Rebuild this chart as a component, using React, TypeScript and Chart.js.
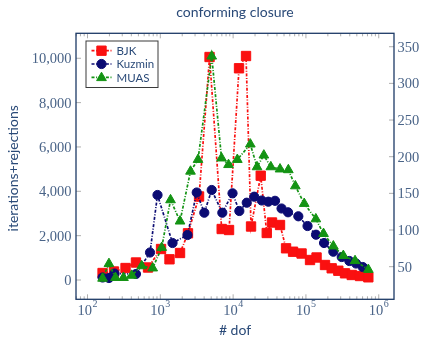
import React, { useEffect, useRef } from 'react';
import { Chart, registerables } from 'chart.js';

Chart.register(...registerables);

// Mesh sizes (# dof) and iteration+rejection counts for each method
const bjkDof = [161, 231, 333, 463, 678, 1023, 1337, 1866, 2399, 3404, 4745, 6966, 8790, 12050, 15040, 17620, 23930, 28970, 34200, 44060, 53330, 66530, 87100, 113800, 139900, 182800, 225800, 278500, 344200, 425500, 553400, 719500];
const bjkCount = [316, 383, 541, 789, 564, 1398, 934, 1218, 2106, 3766, 10057, 2300, 2255, 9548, 10102, 2413, 4704, 2120, 2593, 2481, 1430, 1276, 1195, 902, 1015, 677, 528, 419, 302, 226, 180, 122];

const kuzminDof = [161, 197, 235, 463, 722, 915, 1471, 2363, 3162, 4021, 5082, 7105, 9813, 12170, 15380, 19490, 24720, 30440, 37630, 46220, 56780, 78640, 105200, 137600, 177300, 237900, 310300, 394700, 487800, 602900];
const kuzminCount = [113, 90, 293, 271, 1240, 3834, 1669, 2030, 3946, 3035, 4059, 3035, 3910, 3112, 3486, 3757, 3586, 3532, 3572, 3225, 3054, 2873, 2435, 2043, 1669, 1276, 1037, 857, 744, 586];

const muasDof = [161, 197, 242, 312, 405, 555, 786, 1045, 1381, 1866, 2598, 3295, 5082, 6929, 8647, 11420, 17230, 21300, 26410, 32950, 44060, 57320, 71520, 94750, 136800, 174500, 237900, 326300, 472600, 719500];
const muasCount = [34, 54, 35, 35, 38, 51, 48, 76, 141, 112, 180, 196, 337, 198, 189, 196, 217, 186, 202, 186, 183, 182, 160, 136, 115, 95, 78, 65, 58, 46];

// Axis tick values
const leftTicks = [0, 2000, 4000, 6000, 8000, 10000];
const rightTicks = [50, 100, 150, 200, 250, 300, 350];
const decadeExponents = [2, 3, 4, 5, 6];

const TITLE = 'conforming closure';
const X_TITLE = '# dof';
const Y_TITLE = 'iterations+rejections';

const RED = '#fa1010';
const NAVY = '#0b0b73';
const GREEN = '#139313';
const FRAME = '#1d3a66';
const TICK_TEXT = '#4a6488';
const TITLE_TEXT = '#2a4a78';
const TICK_MARK = '#9a9a9a';
const DASH = [3, 1.6, 1, 1.6];

const SERIF = '"Liberation Serif", serif';
const SANS = 'Lato, "Noto Sans", sans-serif';

function toPoints(xs: number[], ys: number[]) {
  return xs.map((x, i) => ({ x, y: ys[i] }));
}

// Same geometry as Chart.js point styles
function drawMarker(ctx: CanvasRenderingContext2D, style: string, x: number, y: number, r: number) {
  ctx.beginPath();
  if (style === 'rect') {
    const s = Math.SQRT1_2 * r;
    ctx.rect(x - s, y - s, 2 * s, 2 * s);
  } else if (style === 'triangle') {
    let rad = 0;
    ctx.moveTo(x + Math.sin(rad) * r, y - Math.cos(rad) * r);
    rad += (2 * Math.PI) / 3;
    ctx.lineTo(x + Math.sin(rad) * r, y - Math.cos(rad) * r);
    rad += (2 * Math.PI) / 3;
    ctx.lineTo(x + Math.sin(rad) * r, y - Math.cos(rad) * r);
    ctx.closePath();
  } else {
    ctx.arc(x, y, r, 0, Math.PI * 2);
  }
  ctx.fill();
  ctx.stroke();
}

const insideTicks = {
  id: 'insideTicks',
  beforeDatasetsDraw(chart: any) {
    const { ctx, chartArea: a, scales } = chart;
    const xs = scales.x;
    const yl = scales.y;
    const yr = scales.y2;
    ctx.save();
    ctx.strokeStyle = TICK_MARK;
    ctx.lineWidth = 0.8;
    const seg = (x1: number, y1: number, x2: number, y2: number) => {
      ctx.beginPath();
      ctx.moveTo(x1, y1);
      ctx.lineTo(x2, y2);
      ctx.stroke();
    };
    for (let e = 1; e <= 6; e++) {
      for (let m = 1; m <= 9; m++) {
        const v = m * Math.pow(10, e);
        if (v < xs.min || v > xs.max) continue;
        const px = xs.getPixelForValue(v);
        const len = m === 1 ? 5 : 3;
        seg(px, a.bottom, px, a.bottom - len);
        seg(px, a.top, px, a.top + len);
      }
    }
    leftTicks.forEach((v) => {
      const py = yl.getPixelForValue(v);
      seg(a.left, py, a.left + 5, py);
    });
    rightTicks.forEach((v) => {
      const py = yr.getPixelForValue(v);
      seg(a.right, py, a.right - 5, py);
    });
    ctx.restore();
  },
};

const decorations = {
  id: 'decorations',
  afterDatasetsDraw(chart: any) {
    const { ctx, chartArea: a, scales } = chart;
    const xs = scales.x;
    const yl = scales.y;
    const yr = scales.y2;
    ctx.save();

    // frame
    ctx.strokeStyle = FRAME;
    ctx.lineWidth = 1.3;
    ctx.strokeRect(a.left, a.top, a.right - a.left, a.bottom - a.top);

    // left tick labels
    ctx.fillStyle = TICK_TEXT;
    ctx.font = `14.5px ${SERIF}`;
    ctx.textBaseline = 'alphabetic';
    ctx.textAlign = 'right';
    leftTicks.forEach((v) => {
      ctx.fillText(v.toLocaleString('en-US'), a.left - 4.5, yl.getPixelForValue(v) + 4.9);
    });
    // right tick labels
    ctx.textAlign = 'left';
    rightTicks.forEach((v) => {
      ctx.fillText(String(v), a.right + 3.5, yr.getPixelForValue(v) + 4.9);
    });
    // x tick labels 10^k
    decadeExponents.forEach((k) => {
      const px = xs.getPixelForValue(Math.pow(10, k));
      ctx.font = `14.5px ${SERIF}`;
      const wb = ctx.measureText('10').width;
      ctx.font = `10px ${SERIF}`;
      const ws = ctx.measureText(String(k)).width;
      const start = px - (wb + ws + 0.5) / 2;
      ctx.textAlign = 'left';
      ctx.font = `14.5px ${SERIF}`;
      ctx.fillText('10', start, a.bottom + 15.7);
      ctx.font = `10px ${SERIF}`;
      ctx.fillText(String(k), start + wb + 0.5, a.bottom + 7.5);
    });

    // titles
    const cx = (a.left + a.right) / 2;
    ctx.fillStyle = TITLE_TEXT;
    ctx.textAlign = 'center';
    ctx.font = `14px ${SANS}`;
    ctx.fillText(TITLE, cx, 16.5);
    ctx.font = `14px ${SANS}`;
    ctx.fillText(X_TITLE, cx, 335);
    ctx.save();
    ctx.translate(13, (a.top + a.bottom) / 2 + 2);
    ctx.rotate(-Math.PI / 2);
    ctx.textBaseline = 'middle';
    ctx.fillText(Y_TITLE, 0, 0);
    ctx.restore();

    // legend
    const lx = 86;
    const ly = 41;
    ctx.fillStyle = '#ffffff';
    ctx.fillRect(lx, ly, 72, 46.5);
    ctx.strokeStyle = '#3a3a3a';
    ctx.lineWidth = 1;
    ctx.strokeRect(lx, ly, 72, 46.5);
    chart.data.datasets.forEach((ds: any, i: number) => {
      const y = 50.7 + i * 13.3;
      ctx.strokeStyle = ds.borderColor;
      ctx.lineWidth = ds.borderWidth;
      ctx.setLineDash(DASH);
      ctx.beginPath();
      ctx.moveTo(91.5, y);
      ctx.lineTo(111.5, y);
      ctx.stroke();
      ctx.setLineDash([]);
      ctx.fillStyle = ds.backgroundColor;
      ctx.lineWidth = ds.pointBorderWidth;
      drawMarker(ctx, ds.pointStyle, 101.5, ds.pointStyle === 'triangle' ? y + 0.5 : y, ds.pointRadius);
      ctx.fillStyle = TITLE_TEXT;
      ctx.font = `11.5px ${SANS}`;
      ctx.textAlign = 'left';
      ctx.textBaseline = 'middle';
      ctx.fillText(ds.label, 116.5, y + 0.5);
    });

    ctx.restore();
  },
};

export default function App() {
  const ref = useRef<HTMLCanvasElement | null>(null);

  useEffect(() => {
    if (!ref.current) return;
    const common = { borderWidth: 1.7, borderDash: DASH, pointBorderWidth: 1, tension: 0, fill: false };
    const chart = new Chart(ref.current, {
      type: 'line',
      data: {
        datasets: [
          {
            ...common,
            label: 'BJK',
            data: toPoints(bjkDof, bjkCount),
            yAxisID: 'y',
            borderColor: RED,
            backgroundColor: RED,
            pointStyle: 'rect',
            pointRadius: 6.6,
            order: 3,
          },
          {
            ...common,
            label: 'Kuzmin',
            data: toPoints(kuzminDof, kuzminCount),
            yAxisID: 'y',
            borderColor: NAVY,
            backgroundColor: NAVY,
            pointStyle: 'circle',
            pointRadius: 4.6,
            order: 2,
          },
          {
            ...common,
            label: 'MUAS',
            data: toPoints(muasDof, muasCount),
            yAxisID: 'y2',
            borderColor: GREEN,
            backgroundColor: GREEN,
            pointStyle: 'triangle',
            pointRadius: 5.6,
            order: 1,
          },
        ] as any,
      },
      options: {
        animation: false,
        responsive: false,
        devicePixelRatio: 1,
        events: [],
        layout: { padding: { left: 76, right: 29, top: 33.3, bottom: 39.7 } },
        plugins: {
          legend: { display: false },
          title: { display: false },
          tooltip: { enabled: false },
        },
        scales: {
          x: { type: 'logarithmic', min: 69.5, max: 1.62e6, display: false },
          y: { type: 'linear', position: 'left', min: -870, max: 11126, display: false },
          y2: { type: 'linear', position: 'right', min: 5.5, max: 368.3, display: false },
        },
      } as any,
      plugins: [insideTicks, decorations],
    });
    return () => chart.destroy();
  }, []);

  return (
    <div style={{ position: 'fixed', left: 0, top: 0, width: 423, height: 339, background: '#fff' }}>
      <canvas ref={ref} width={423} height={339} style={{ display: 'block' }} />
    </div>
  );
}
